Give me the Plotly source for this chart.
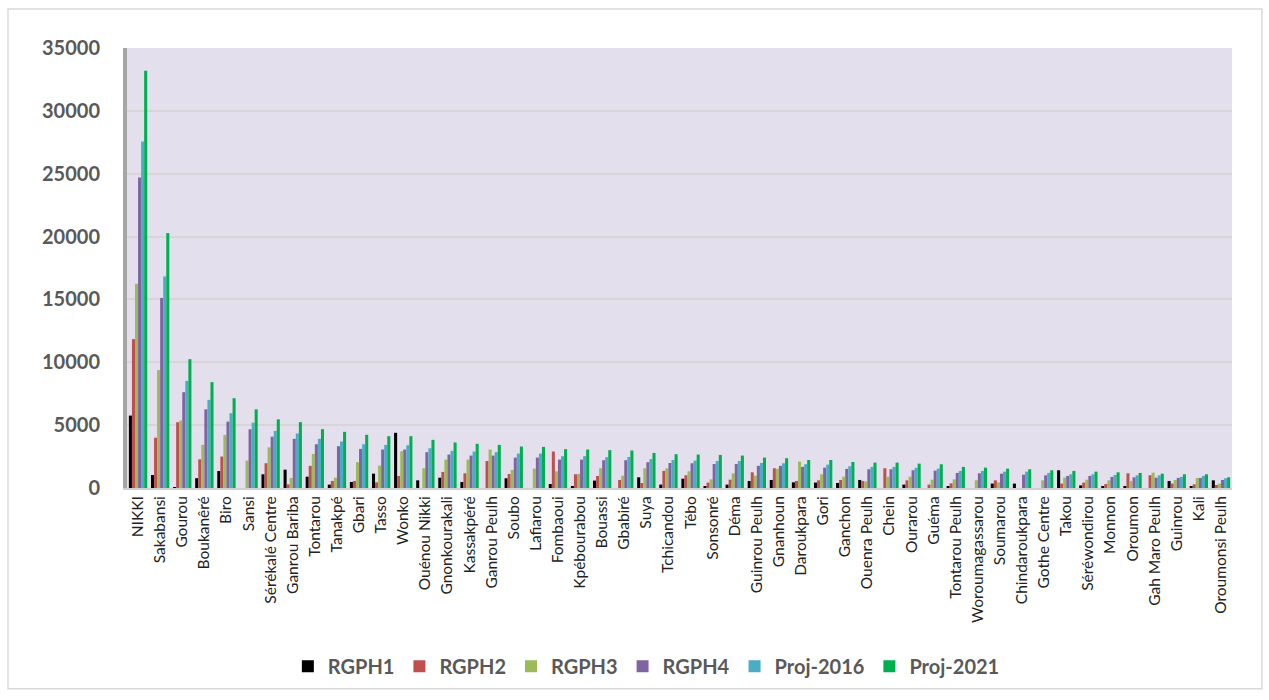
import plotly.graph_objects as go

categories = ["NIKKI", "Sakabansi", "Gourou", "Boukanêré", "Biro", "Sansi", "Sérékalé Centre",
              "Ganrou Bariba", "Tontarou", "Tanakpé", "Gbari", "Tasso", "Wonko", "Ouénou Nikki",
              "Gnonkourakali", "Kassakpéré", "Ganrou Peulh", "Soubo", "Lafiarou", "Fombaoui",
              "Kpébourabou", "Bouassi", "Gbabiré", "Suya", "Tchicandou", "Tébo", "Sonsonré",
              "Déma", "Guinrou Peulh", "Gnanhoun", "Daroukpara", "Gori", "Ganchon", "Ouenra Peulh",
              "Chein", "Ourarou", "Guéma", "Tontarou Peulh", "Woroumagassarou", "Soumarou",
              "Chindaroukpara", "Gothe Centre", "Takou", "Séréwondirou", "Monnon", "Oroumon",
              "Gah Maro Peulh", "Guinrou", "Kali", "Oroumonsi Peulh"]

rgph1 = [5760, 1030, 50, 780, 1350, 0, 1090, 1460, 900, 270, 480, 1140, 4390, 610, 820, 480, 0,
         770, 0, 320, 160, 590, 0, 850, 270, 740, 130, 270, 560, 640, 450, 430, 400, 640, 0, 270,
         0, 80, 0, 350, 350, 0, 1410, 210, 160, 80, 0, 560, 130, 610]
rgph2 = [11840, 4000, 5230, 2280, 2500, 0, 1970, 290, 1760, 560, 560, 450, 960, 0, 1280, 1170,
         2150, 1120, 0, 2900, 1090, 960, 640, 400, 1360, 1010, 430, 660, 1250, 1570, 560, 610, 640,
         560, 1570, 610, 270, 370, 0, 610, 0, 0, 350, 430, 320, 1170, 1010, 350, 290, 240]
rgph3 = [16240, 9380, 5360, 3430, 4220, 2180, 3240, 800, 2710, 820, 2050, 1780, 2930, 1570, 2260,
         2260, 3060, 1440, 1540, 1330, 1120, 1570, 980, 1570, 1570, 1330, 690, 1170, 980, 1520,
         2100, 1090, 900, 530, 900, 900, 660, 690, 610, 450, 0, 610, 830, 660, 610, 560, 1220, 640,
         800, 350]
rgph4 = [24700, 15120, 7620, 6260, 5280, 4670, 4080, 3910, 3480, 3320, 3110, 3060, 3060, 2850,
         2660, 2580, 2580, 2420, 2420, 2260, 2260, 2210, 2210, 2050, 1990, 1970, 1910, 1910, 1760,
         1760, 1680, 1620, 1520, 1490, 1490, 1410, 1380, 1200, 1170, 1140, 1060, 1010, 960, 960,
         880, 850, 820, 800, 800, 640]
proj2016 = [27570, 16830, 8520, 7010, 5950, 5200, 4540, 4340, 3910, 3700, 3480, 3430, 3400, 3160,
            2950, 2900, 2850, 2740, 2740, 2530, 2530, 2450, 2470, 2290, 2230, 2180, 2150, 2150,
            1990, 1970, 1890, 1860, 1730, 1680, 1680, 1600, 1540, 1360, 1360, 1300, 1300, 1200,
            1090, 1090, 1040, 1010, 1010, 880, 960, 770]
proj2021 = [33200, 20280, 10250, 8420, 7140, 6260, 5460, 5240, 4680, 4470, 4230, 4120, 4120, 3830,
            3620, 3510, 3430, 3300, 3270, 3090, 3060, 3010, 2980, 2790, 2690, 2660, 2630, 2580,
            2420, 2370, 2230, 2230, 2070, 2020, 2020, 1940, 1890, 1680, 1620, 1540, 1490, 1410,
            1360, 1300, 1250, 1200, 1140, 1090, 1090, 850]

series = [("RGPH1", rgph1, "#000000"), ("RGPH2", rgph2, "#C0504D"), ("RGPH3", rgph3, "#9BBB59"),
          ("RGPH4", rgph4, "#8064A2"), ("Proj-2016", proj2016, "#4BACC6"),
          ("Proj-2021", proj2021, "#00B050")]
y_ticks = [0, 5000, 10000, 15000, 20000, 25000, 30000, 35000]

fig = go.Figure()
for name, vals, col in series:
    fig.add_trace(go.Bar(x=categories, y=vals, name=name, marker_color=col,
                         marker_line_width=0))

fig.update_layout(
    width=1269, height=700,
    margin=dict(l=127, r=37, t=48, b=212),
    paper_bgcolor="white", plot_bgcolor="#E4DFEC",
    barmode="group", bargap=0.17, bargroupgap=0,
    font=dict(family="Lato", color="#595959"),
    legend=dict(orientation="h", x=0.47, xanchor="center", y=-0.405, yanchor="middle",
                font=dict(family="Lato", size=20, color="#595959", weight="bold"),
                traceorder="normal", itemwidth=30),
    showlegend=True,
)
fig.update_yaxes(range=[0, 35000], tickvals=y_ticks, ticktext=[str(v) for v in y_ticks],
                 showgrid=True, gridcolor="#D6D6D6", gridwidth=2,
                 showline=True, linecolor="#A6A6A6", linewidth=4,
                 tickfont=dict(family="Lato", size=20, color="#595959", weight="bold"),
                 ticks="", ticklabelstandoff=19, zeroline=False)
fig.update_xaxes(tickangle=-90, tickfont=dict(family="Lato", size=15.5, color="#222222"),
                 showline=True, linecolor="#D0D0D0", linewidth=2, ticks="",
                 range=[-0.5, len(categories) - 0.5])

fig.add_shape(type="rect", xref="paper", yref="paper", x0=-0.1077, x1=1.0271, y0=-0.456,
              y1=1.0886, line=dict(color="#D9D9D9", width=1.5), fillcolor="rgba(0,0,0,0)",
              layer="below")

fig.write_html("out.html")
